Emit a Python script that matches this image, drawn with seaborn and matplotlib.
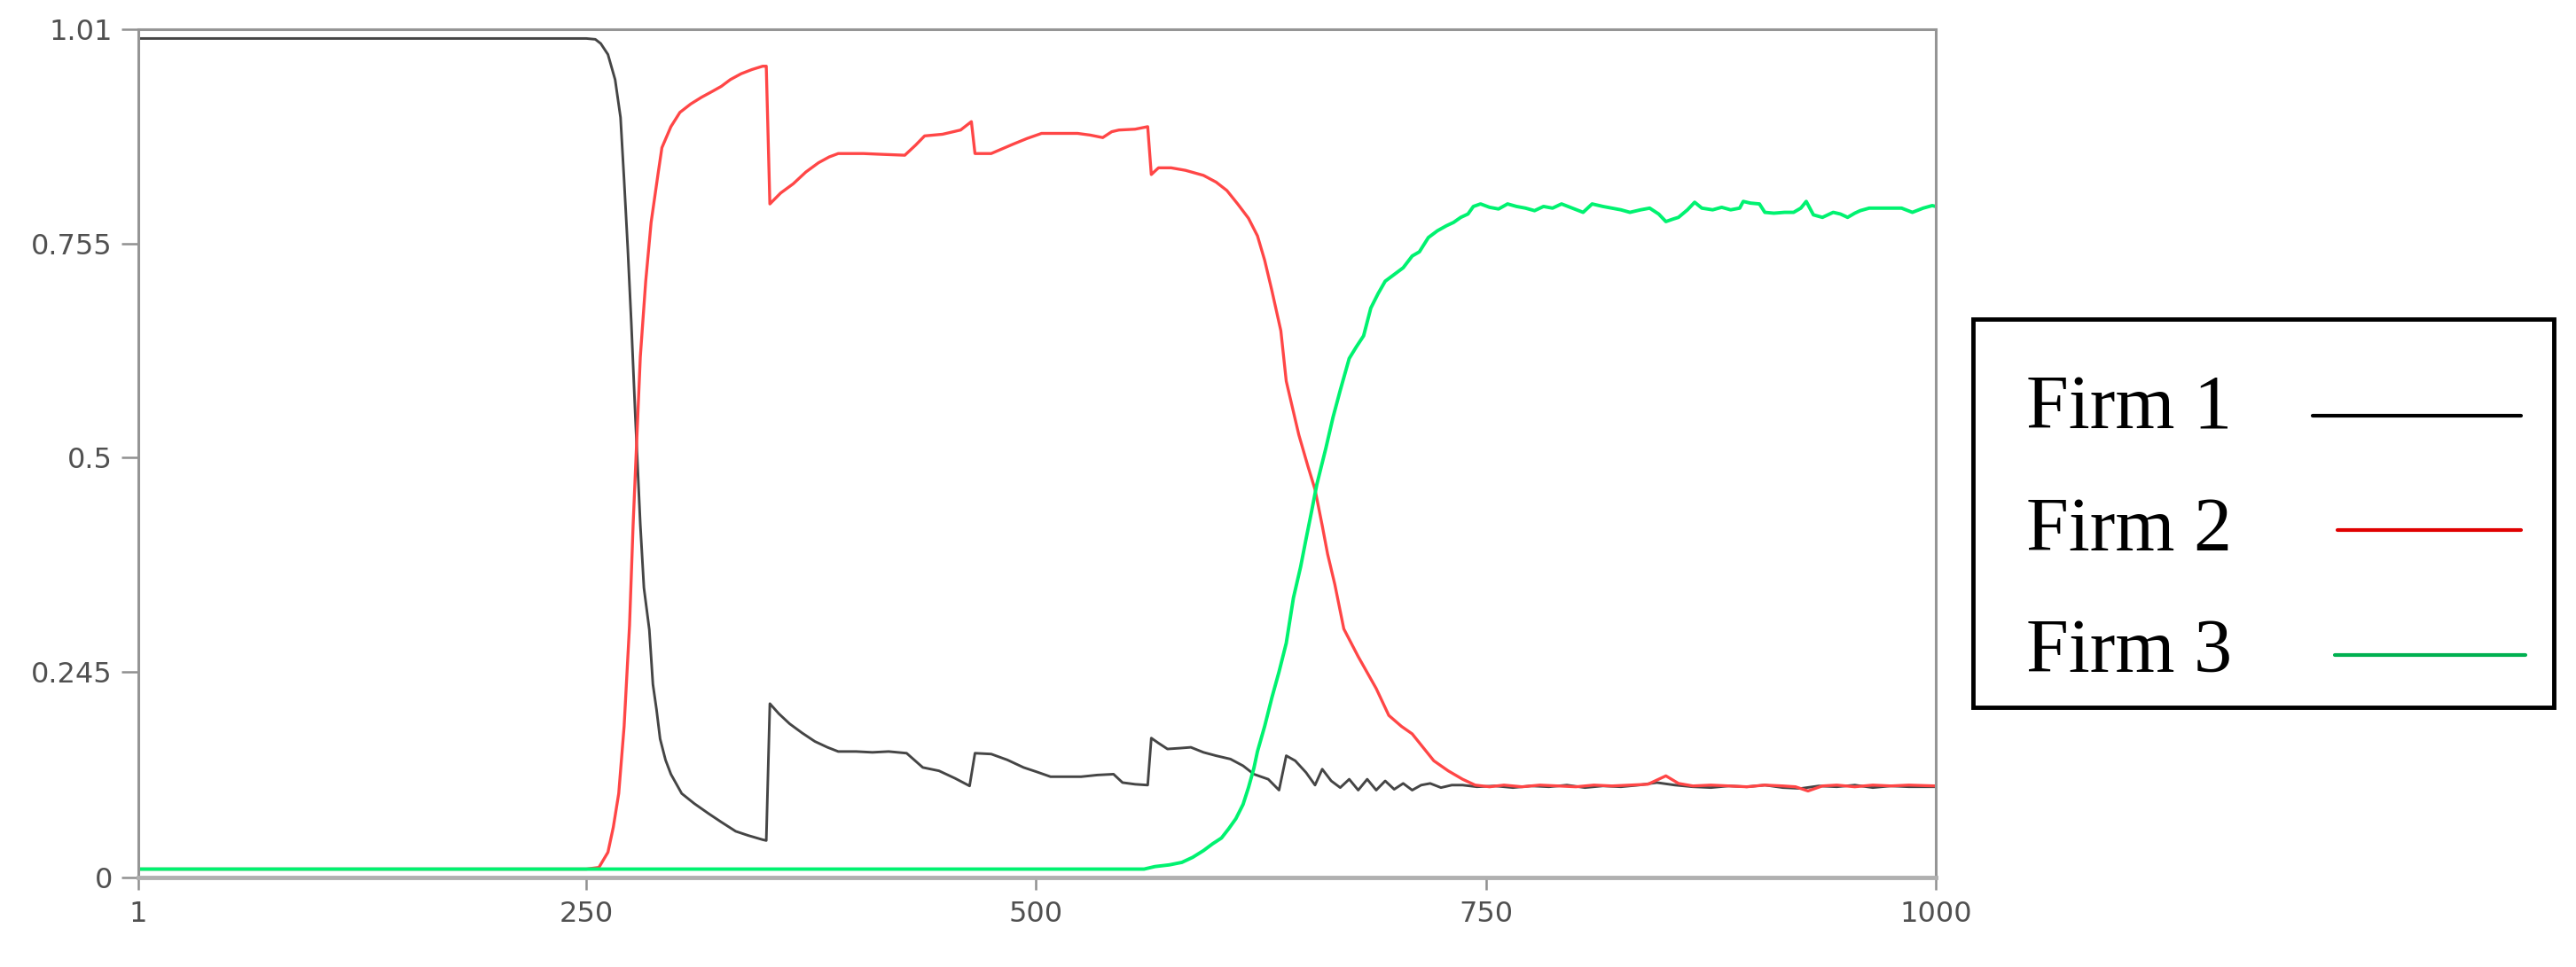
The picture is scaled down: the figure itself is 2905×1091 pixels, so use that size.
import numpy as np
import pandas as pd
import matplotlib
matplotlib.use("Agg")
import matplotlib.pyplot as plt
import seaborn as sns
from matplotlib.lines import Line2D
from matplotlib.patches import Rectangle
from matplotlib.legend_handler import HandlerLine2D
from matplotlib.font_manager import FontProperties

# ---------------- data ----------------
firm_names = ["Firm 1", "Firm 2", "Firm 3"]

firm1_x = [1, 100, 200, 250, 255, 258, 262, 266, 269, 271, 273, 275, 277, 280, 282,
           285, 287, 289, 291, 294, 297, 303, 310, 318, 325, 333, 340, 348, 350, 352,
           357, 363, 370, 377, 384, 390, 400, 409, 418, 428, 437, 446, 455, 463, 466,
           475, 484, 493, 500, 508, 516, 525, 534, 543, 548, 555, 562, 564, 568, 573,
           580, 586, 593, 600, 608, 615, 621, 629, 635, 639, 644, 650, 655, 659, 664,
           669, 674, 679, 684, 689, 694, 699, 704, 709, 714, 719, 725, 731, 737, 745,
           755, 765, 775, 785, 795, 805, 815, 825, 835, 845, 855, 865, 875, 885, 895,
           905, 915, 925, 935, 945, 955, 965, 975, 985, 1000]
firm1_y = [0.999, 0.999, 0.999, 0.999, 0.998, 0.993, 0.98, 0.95, 0.905, 0.83, 0.75, 0.66,
           0.56, 0.42, 0.345, 0.295, 0.23, 0.2, 0.165, 0.14, 0.123, 0.1, 0.088, 0.076,
           0.066, 0.055, 0.05, 0.045, 0.044, 0.207, 0.195, 0.183, 0.172, 0.162, 0.155,
           0.15, 0.15, 0.149, 0.15, 0.148, 0.131, 0.127, 0.118, 0.109, 0.148, 0.147,
           0.14, 0.131, 0.126, 0.12, 0.12, 0.12, 0.122, 0.123, 0.113, 0.111, 0.11,
           0.166, 0.16, 0.153, 0.154, 0.155, 0.149, 0.145, 0.141, 0.133, 0.123, 0.117,
           0.104, 0.145, 0.139, 0.125, 0.11, 0.129, 0.115, 0.107, 0.117, 0.104, 0.117,
           0.104, 0.115, 0.105, 0.112, 0.104, 0.11, 0.112, 0.107, 0.11, 0.11, 0.108,
           0.109, 0.107, 0.109, 0.108, 0.11, 0.107, 0.109, 0.108, 0.11, 0.113, 0.11,
           0.108, 0.107, 0.109, 0.108, 0.11, 0.107, 0.106, 0.109, 0.108, 0.11, 0.107,
           0.109, 0.108, 0.108]

firm2_x = [1, 100, 200, 250, 257, 262, 265, 268, 271, 274, 276, 278, 280, 283, 286,
           290, 292, 297, 302, 308, 314, 320, 325, 330, 336, 342, 348, 350, 352, 358,
           365, 372, 379, 385, 390, 404, 415, 427, 433, 438, 448, 458, 464, 466, 475,
           487, 495, 503, 513, 523, 530, 537, 542, 546, 555, 562, 564, 568, 575, 583,
           593, 600, 606, 612, 618, 623, 627, 631, 636, 639, 646, 651, 655, 659, 662,
           666, 671, 679, 684, 689, 696, 703, 709, 715, 721, 729, 737, 744, 752, 760,
           770, 780, 790, 800, 810, 820, 830, 840, 850, 857, 865, 875, 885, 895, 905,
           915, 922, 929, 937, 945, 955, 965, 975, 985, 1000]
firm2_y = [0.01, 0.01, 0.01, 0.01, 0.012, 0.03, 0.06, 0.1, 0.18, 0.3, 0.42, 0.52, 0.62,
           0.71, 0.78, 0.84, 0.869, 0.894, 0.911, 0.921, 0.929, 0.936, 0.942, 0.95,
           0.957, 0.962, 0.966, 0.966, 0.802, 0.815, 0.826, 0.84, 0.851, 0.858, 0.862,
           0.862, 0.861, 0.86, 0.872, 0.883, 0.885, 0.89, 0.9, 0.862, 0.862, 0.873,
           0.88, 0.886, 0.886, 0.886, 0.884, 0.881, 0.888, 0.89, 0.891, 0.894, 0.837,
           0.845, 0.845, 0.842, 0.836, 0.828, 0.818, 0.802, 0.785, 0.764, 0.735, 0.699,
           0.651, 0.591, 0.527, 0.49, 0.462, 0.419, 0.385, 0.349, 0.296, 0.263, 0.244,
           0.225, 0.193, 0.18, 0.171, 0.155, 0.139, 0.127, 0.117, 0.11, 0.108, 0.11,
           0.108, 0.11, 0.109, 0.108, 0.11, 0.109, 0.11, 0.111, 0.121, 0.112, 0.109,
           0.11, 0.109, 0.108, 0.11, 0.109, 0.108, 0.103, 0.109, 0.11, 0.108, 0.11,
           0.109, 0.11, 0.109]

firm3_x = [1, 100, 200, 300, 400, 500, 560, 566, 574, 581, 587, 593, 598, 603, 607,
           611, 615, 618, 621, 623, 627, 631, 635, 639, 643, 647, 650, 653, 656, 661,
           665, 669, 674, 678, 682, 686, 690, 694, 699, 704, 709, 713, 718, 723, 728,
           732, 736, 740, 743, 747, 752, 757, 762, 767, 772, 777, 782, 787, 792, 798,
           804, 809, 815, 820, 825, 830, 836, 841, 846, 850, 854, 857, 862, 866, 870,
           876, 881, 886, 891, 893, 897, 902, 905, 910, 916, 921, 925, 928, 932, 937,
           943, 947, 951, 955, 958, 963, 968, 974, 981, 987, 993, 998, 1000]
firm3_y = [0.01, 0.01, 0.01, 0.01, 0.01, 0.01, 0.01, 0.013, 0.015, 0.018, 0.024, 0.032,
           0.04, 0.047, 0.058, 0.07, 0.087, 0.107, 0.13, 0.15, 0.18, 0.214, 0.245,
           0.279, 0.333, 0.37, 0.403, 0.435, 0.468, 0.511, 0.548, 0.58, 0.618, 0.632,
           0.645, 0.678, 0.695, 0.71, 0.718, 0.726, 0.74, 0.745, 0.762, 0.77, 0.776,
           0.78, 0.786, 0.79, 0.799, 0.802, 0.798, 0.796, 0.802, 0.799, 0.797, 0.794,
           0.799, 0.797, 0.802, 0.797, 0.792, 0.802, 0.799, 0.797, 0.795, 0.792, 0.795,
           0.797, 0.79, 0.781, 0.784, 0.786, 0.795, 0.804, 0.797, 0.795, 0.798, 0.795,
           0.797, 0.805, 0.803, 0.802, 0.792, 0.791, 0.792, 0.792, 0.797, 0.805, 0.789,
           0.786, 0.792, 0.79, 0.786, 0.791, 0.794, 0.797, 0.797, 0.797, 0.797, 0.792,
           0.797, 0.8, 0.799]

x_ticks = [1, 250, 500, 750, 1000]
x_tick_labels = ["1", "250", "500", "750", "1000"]
y_ticks = [0, 0.245, 0.5, 0.755, 1.01]
y_tick_labels = ["0", "0.245", "0.5", "0.755", "1.01"]

line_colors = {"Firm 1": "#454545", "Firm 2": "#ff4646", "Firm 3": "#00f270"}
legend_colors = ["#000000", "#e00000", "#00b050"]

# ---------------- build table ----------------
frames = []
for name, xs, ys in zip(firm_names, [firm1_x, firm2_x, firm3_x],
                        [firm1_y, firm2_y, firm3_y]):
    frames.append(pd.DataFrame({"step": xs, "share": ys, "firm": name}))
df = pd.concat(frames, ignore_index=True)


class OffsetLineHandler(HandlerLine2D):
    """Legend line that can be trimmed on the left and set a bit lower."""

    def __init__(self, trim_left=0.0, extend_right=0.0, dy=0.0, **kw):
        super().__init__(**kw)
        self.trim_left = trim_left
        self.extend_right = extend_right
        self.dy = dy

    def create_artists(self, legend, orig_handle, xdescent, ydescent, width,
                       height, fontsize, trans):
        artists = super().create_artists(legend, orig_handle, xdescent, ydescent,
                                         width, height, fontsize, trans)
        line = artists[0]
        xd = np.asarray(line.get_xdata(), dtype=float)
        yd = np.asarray(line.get_ydata(), dtype=float)
        line.set_xdata([xd.min() + self.trim_left, xd.max() + self.extend_right])
        line.set_ydata([yd[0] - self.dy, yd[-1] - self.dy])
        return artists


# ---------------- plot ----------------
sns.set_theme(style="white")
plt.rcParams["font.family"] = ["DejaVu Sans"]

W, H = 2905, 1091
fig = plt.figure(figsize=(W / 100, H / 100), dpi=100)
fig.patch.set_facecolor("white")
left, right, top, bottom = 156, 2183, 33, 990
ax = fig.add_axes([left / W, 1 - bottom / H, (right - left) / W, (bottom - top) / H])

sns.lineplot(data=df, x="step", y="share", hue="firm", hue_order=firm_names,
             palette=line_colors, estimator=None, sort=True, linewidth=2.4,
             legend=False, ax=ax)
for ln, lw in zip(ax.get_lines(), [2.1, 2.4, 2.8]):
    ln.set_linewidth(lw)

ax.set_xlim(1, 1000)
ax.set_ylim(0, 1.01)
ax.set_xticks(x_ticks)
ax.set_xticklabels(x_tick_labels)
ax.set_yticks(y_ticks)
ax.set_yticklabels(y_tick_labels)
ax.set_xlabel("")
ax.set_ylabel("")
ax.grid(False)

for side in ["left", "right", "top"]:
    ax.spines[side].set_color("#959595")
    ax.spines[side].set_linewidth(2.2)
ax.spines["bottom"].set_color("#b0b0b0")
ax.spines["bottom"].set_linewidth(3.5)

ax.tick_params(axis="x", direction="out", length=10, width=1.8, color="#909090",
               labelcolor="#505050", labelsize=23, pad=9, bottom=True)
ax.tick_params(axis="y", direction="out", length=14, width=1.8, color="#909090",
               labelcolor="#505050", labelsize=23, pad=7, left=True)

# legend box (frame drawn separately so that the padding can be asymmetric)
box = Rectangle((2225 / W, 1 - 798 / H), 655 / W, 438 / H, transform=fig.transFigure,
                facecolor="white", edgecolor="black", linewidth=3.5, zorder=1)
fig.add_artist(box)

handles = [Line2D([0], [0], color=c, linewidth=3.0) for c in legend_colors]
handler_map = {
    handles[0]: OffsetLineHandler(trim_left=0.0, extend_right=0.0, dy=11.0),
    handles[1]: OffsetLineHandler(trim_left=20.0, extend_right=0.0, dy=5.0),
    handles[2]: OffsetLineHandler(trim_left=18.0, extend_right=3.5, dy=8.0),
}
leg = fig.legend(handles, firm_names, loc="upper left",
                 bbox_to_anchor=(2285 / W, 1 - 423 / H), bbox_transform=fig.transFigure,
                 borderaxespad=0, frameon=False,
                 markerfirst=False, handler_map=handler_map,
                 prop=FontProperties(family="Liberation Serif", size=62),
                 handlelength=2.73, handletextpad=1.06, labelspacing=0.67,
                 borderpad=0)
leg.set_zorder(2)
for t in leg.get_texts():
    t.set_color("black")

fig.savefig("out.png", dpi=100, facecolor="white")
